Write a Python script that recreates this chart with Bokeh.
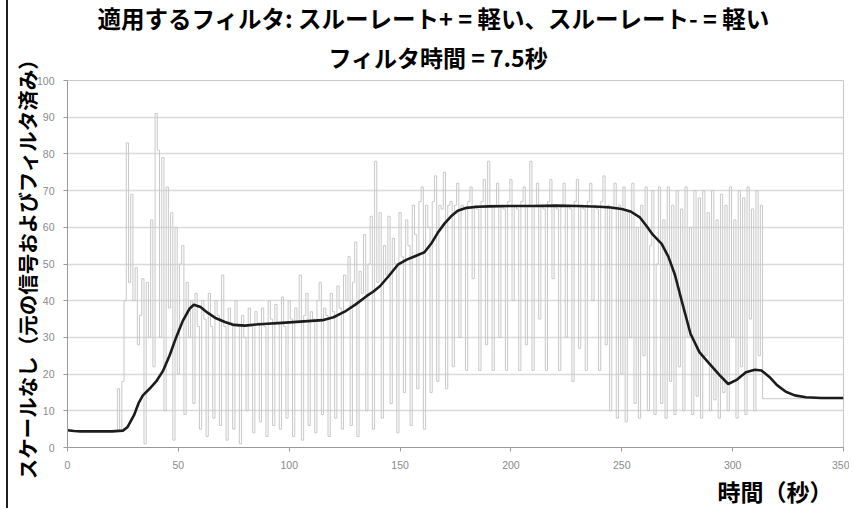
from bokeh.plotting import figure
from bokeh.models import Title, FixedTicker, Range1d
from bokeh.embed import file_html
from bokeh.resources import INLINE

title_line1 = "適用するフィルタ: スルーレート+ = 軽い、スルーレート- = 軽い"
title_line2 = "フィルタ時間 = 7.5秒"
y_label = "スケールなし（元の信号およびフィルタ済み）"
x_label = "時間（秒）"

x_ticks = [0, 50, 100, 150, 200, 250, 300, 350]
y_ticks = [0, 10, 20, 30, 40, 50, 60, 70, 80, 90, 100]

# original (unfiltered) signal: flat head, dense 1-second samples 23..313, flat tail
raw_head_t = [0, 22]
raw_head_v = [4.6, 4.5]
raw_dense_start = 23
raw_dense_v = [
    16, 4.5, 18, 40, 83, 45, 69, 40, 49, 28,
    36, 46, 1, 45, 30, 62, 22, 91, 81, 30,
    79, 10, 71, 38, 64, 2, 60, 20, 50, 55,
    9, 45, 30, 40, 12, 42, 33, 5, 40, 35,
    3, 42, 33, 8, 40, 36, 6, 47, 33, 2,
    38, 34, 5, 40, 33, 1, 36, 30, 10, 38,
    33, 4, 37, 34, 7, 38, 33, 3, 40, 35,
    6, 39, 34, 5, 41, 33, 8, 40, 35, 3,
    38, 34, 47, 2, 36, 42, 6, 37, 35, 4,
    40, 45, 9, 38, 36, 3, 42, 37, 8, 44,
    38, 5, 47, 40, 52, 6, 45, 56, 3, 48,
    42, 58, 10, 50, 63, 5, 78, 45, 64, 8,
    55, 47, 63, 12, 57, 50, 4, 64, 52, 15,
    62, 55, 6, 66, 58, 16, 67, 71, 5, 66,
    60, 15, 67, 74, 18, 66, 65, 75, 16, 66,
    67, 22, 66, 72, 30, 66, 65, 21, 67, 71,
    46, 66, 65, 21, 67, 73, 28, 78, 66, 21,
    66, 72, 30, 66, 65, 21, 67, 73, 40, 66,
    65, 21, 67, 71, 28, 66, 78, 21, 66, 72,
    35, 66, 65, 21, 67, 73, 46, 66, 65, 21,
    66, 72, 30, 66, 65, 18, 67, 73, 27, 66,
    65, 21, 67, 72, 40, 66, 65, 21, 67, 74,
    28, 66, 10, 65, 72, 8, 66, 20, 71, 7,
    64, 30, 72, 12, 60, 8, 66, 25, 71, 10,
    55, 70, 9, 50, 71, 12, 62, 8, 71, 18,
    66, 9, 70, 22, 65, 10, 71, 30, 60, 9,
    70, 14, 68, 8, 70, 25, 64, 10, 70, 13,
    62, 8, 69, 15, 66, 10, 71, 30, 62, 8,
    70, 22, 68, 9, 71, 35, 65, 10, 70, 25,
    66,
]
raw_tail_t = [314, 350]
raw_tail_v = [13.3, 13.3]

# filtered signal
filt_t = [0, 3, 6, 10, 15, 20, 25, 27, 30, 32,
          34, 37, 40, 43, 46, 49, 52, 55, 57, 60,
          63, 67, 71, 75, 80, 85, 90, 95, 100, 105,
          110, 115, 120, 125, 130, 135, 138, 141, 145, 149,
          153, 157, 161, 164, 167, 170, 173, 176, 180, 185,
          190, 200, 210, 220, 230, 240, 245, 250, 254, 258,
          261, 264, 268, 271, 274, 277, 281, 285, 289, 294,
          298, 302, 306, 310, 313, 317, 320, 324, 328, 333,
          340, 350]
filt_v = [4.7, 4.5, 4.4, 4.4, 4.4, 4.4, 4.6, 5.5, 8.8, 12,
          14.2, 16, 18, 20.8, 25, 30, 34.5, 37.8, 38.9, 38.3,
          36.8, 35.2, 34.2, 33.4, 33.2, 33.5, 33.7, 33.9, 34.1, 34.3,
          34.5, 34.7, 35.5, 37, 39, 41.3, 42.5, 44, 46.8, 49.8,
          51.2, 52.2, 53.2, 55.5, 58.5, 61, 63, 64.5, 65.3, 65.6,
          65.7, 65.8, 65.8, 65.9, 65.8, 65.6, 65.4, 65, 64.3, 62.8,
          60.5, 58, 55.5, 52, 47, 40, 31, 26, 23.2, 19.8,
          17.3, 18.5, 20.5, 21.2, 21, 19, 17, 15.2, 14.2, 13.7,
          13.5, 13.5]

raw_t = raw_head_t + list(range(raw_dense_start, raw_dense_start + len(raw_dense_v))) + raw_tail_t
raw_v = raw_head_v + raw_dense_v + raw_tail_v

CJK = "Noto Sans CJK JP"

p = figure(width=843, height=508, output_backend="svg", toolbar_location=None,
           title=None,
           x_range=Range1d(x_ticks[0], x_ticks[-1]), y_range=Range1d(y_ticks[0], y_ticks[-1]),
           min_border_left=57, min_border_right=8, min_border_top=80, min_border_bottom=56,
           styles={"margin-left": "6px", "border-left": "2px solid #1e1e1e"})

p.background_fill_color = "white"
p.border_fill_color = "white"
p.outline_line_color = "#c8c8c8"
p.outline_line_width = 1

p.step(raw_t, raw_v, mode="center", line_color="#c8c8c8", line_width=1)
p.line(filt_t, filt_v, line_color="#1c1c1c", line_width=2.6)

p.xgrid.visible = False
p.ygrid.grid_line_color = "#dadada"
p.ygrid.grid_line_width = 1.5

for ax in (p.xaxis[0], p.yaxis[0]):
    ax.axis_line_color = "#9a9a9a"
    ax.major_tick_line_color = "#9a9a9a"
    ax.major_tick_out = 4
    ax.major_tick_in = 0
    ax.minor_tick_line_color = None
    ax.major_label_text_color = "#8a8a8a"
    ax.major_label_text_font = "Liberation Sans"
    ax.major_label_text_font_size = "10.5px"

p.xaxis[0].ticker = FixedTicker(ticks=x_ticks)
p.yaxis[0].ticker = FixedTicker(ticks=y_ticks)
p.xaxis[0].major_label_standoff = 9
p.yaxis[0].major_label_standoff = 9

p.yaxis[0].axis_label = y_label
p.yaxis[0].axis_label_text_font = CJK
p.yaxis[0].axis_label_text_font_style = "bold"
p.yaxis[0].axis_label_text_font_size = "20.5px"
p.yaxis[0].axis_label_text_color = "black"
p.yaxis[0].axis_label_standoff = -8

p.add_layout(Title(text=title_line2, align="left", text_font=CJK, text_font_size="23px",
                   text_font_style="bold", text_color="black", standoff=14, offset=261), "above")
p.add_layout(Title(text=title_line1, align="left", text_font=CJK, text_font_size="23.5px",
                   text_font_style="bold", text_color="black", standoff=-9, offset=30), "above")
p.add_layout(Title(text=x_label, align="right", text_font=CJK, text_font_size="23px",
                   text_font_style="bold", text_color="black", offset=11, standoff=1), "below")

open("out.html", "w").write(file_html(p, INLINE))
